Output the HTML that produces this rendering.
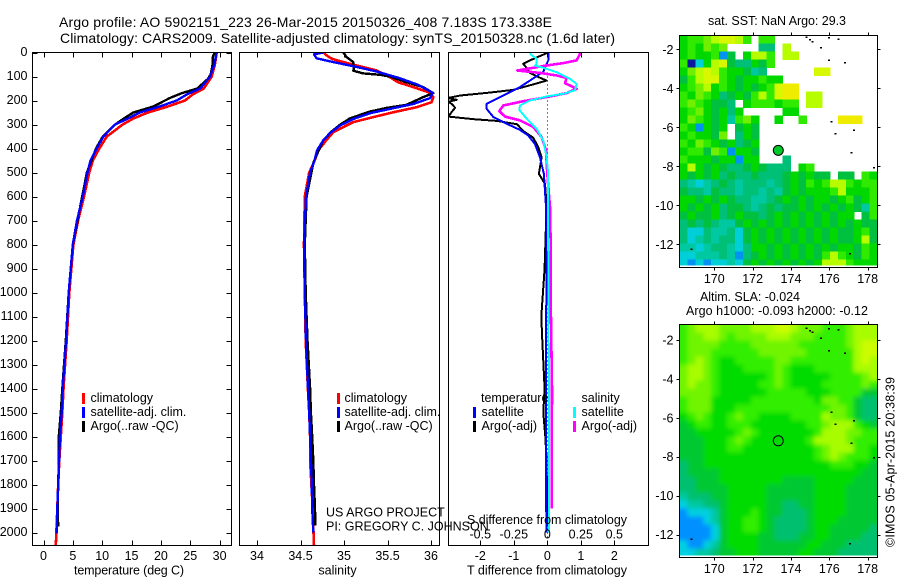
<!DOCTYPE html>
<html>
<head>
<meta charset="utf-8">
<title>Argo profile</title>
<style>
html,body{margin:0;padding:0;background:#fff;}
svg{display:block;}
text{font-family:"Liberation Sans",sans-serif;font-size:12.5px;fill:#000;}
.t{font-size:14px;}
</style>
</head>
<body>
<svg id="chart" xmlns="http://www.w3.org/2000/svg" width="900" height="580" viewBox="0 0 900 580">
<defs>
<clipPath id="clipP1"><rect x="32.5" y="52.5" width="199" height="493"/></clipPath>
<clipPath id="clipP2"><rect x="239.5" y="52.5" width="200" height="493"/></clipPath>
<clipPath id="clipP3"><rect x="448.5" y="52.5" width="200" height="493"/></clipPath>
<clipPath id="clipM1"><rect x="679.5" y="35.5" width="198" height="230"/></clipPath>
<clipPath id="clipM2"><rect x="679.5" y="324.5" width="198" height="231"/></clipPath>
<filter id="smooth" x="-5%" y="-5%" width="110%" height="110%"><feGaussianBlur stdDeviation="2.4"/></filter>
</defs>
<text class="t" x="59" y="27" textLength="493">Argo profile: AO 5902151_223 26-Mar-2015 20150326_408 7.183S 173.338E</text>
<text class="t" x="60" y="43" textLength="555">Climatology: CARS2009. Satellite-adjusted climatology: synTS_20150328.nc (1.6d later)</text>
<g id="layer"></g>
<g>
<rect x="82" y="393" width="3" height="11" fill="#ff0000"/>
<rect x="82" y="407" width="3" height="11" fill="#0000ff"/>
<rect x="82" y="421" width="3" height="11" fill="#000"/>
<text x="90.5" y="402">climatology</text>
<text x="90.5" y="416">satellite-adj. clim.</text>
<text x="90.5" y="430">Argo(..raw -QC)</text>
</g>
<g>
<rect x="337" y="393" width="3" height="11" fill="#ff0000"/>
<rect x="337" y="407" width="3" height="11" fill="#0000ff"/>
<rect x="337" y="421" width="3" height="11" fill="#000"/>
<text x="344.5" y="402">climatology</text>
<text x="344.5" y="416">satellite-adj. clim.</text>
<text x="344.5" y="430">Argo(..raw -QC)</text>
</g>
<g>
<text x="481" y="402">temperature</text>
<rect x="473" y="407" width="3" height="11" fill="#0000ff"/>
<rect x="473" y="421" width="3" height="11" fill="#000"/>
<text x="481.5" y="416">satellite</text>
<text x="481.5" y="430">Argo(-adj)</text>
<text x="581.5" y="402">salinity</text>
<rect x="573" y="407" width="3" height="11" fill="#00ffff"/>
<rect x="573" y="421" width="3" height="11" fill="#ff00ff"/>
<text x="581.5" y="416">satellite</text>
<text x="581.5" y="430">Argo(-adj)</text>
</g>
<text x="326" y="516.5">US ARGO PROJECT</text>
<text x="326" y="530.5">PI: GREGORY C. JOHNSON</text>
<text x="467" y="524" textLength="160">S difference from climatology</text>
<text x="74" y="574.5" textLength="110">temperature (deg C)</text>
<text x="337.5" y="574.5" text-anchor="middle">salinity</text>
<text x="467" y="574.5" textLength="160">T difference from climatology</text>
<text x="708" y="25" textLength="138">sat. SST: NaN Argo: 29.3</text>
<text x="700" y="301" textLength="100">Altim. SLA: -0.024</text>
<text x="686" y="315" textLength="182">Argo h1000: -0.093 h2000: -0.12</text>
<text transform="translate(894.5,547) rotate(-90)" textLength="170">©IMOS 05-Apr-2015 20:38:39</text>
</svg>
<script>
// ---------- profile data ----------
const depthTicks = [0,100,200,300,400,500,600,700,800,900,1000,1100,1200,1300,1400,1500,1600,1700,1800,1900,2000];
const tempTicks = [0,5,10,15,20,25,30];
const salTicks = [34,34.5,35,35.5,36];
const salTickLabels = ['34','34.5','35','35.5','36'];
const tDiffTicks = [-2,-1,0,1,2];
const sDiffTicks = [-0.5,-0.25,0,0.25,0.5];
const sDiffTickLabels = ['-0.5','-0.25','0','0.25','0.5'];
const lonTicks = [170,172,174,176,178];
const latTicks = [-2,-4,-6,-8,-10,-12];

const tempClimDepth = [0,50,100,150,175,200,225,250,275,300,350,400,450,500,600,700,800,1000,1200,1400,1500,1600,1700,1800,1900,2000,2054];
const tempClim = [29.5,29.2,28.65,27.3,25.4,24.1,21.2,17.8,15.3,13.5,10.8,9.5,8.4,7.8,6.9,5.9,5.1,4.4,3.95,3.4,3.2,2.95,2.7,2.5,2.35,2.2,2.1];
const tempSatDepth = [0,50,100,150,175,200,225,250,275,300,350,400,450,500,600,700,800,1000,1200,1400,1500,1600,1700,1800,1900,2005];
const tempSat = [29.5,29.1,28.4,26.7,24.4,22.7,19.8,16.4,14.4,12.2,10.2,9.06,8.0,7.5,6.7,5.7,5.0,4.3,3.85,3.27,3.1,2.8,2.65,2.5,2.35,2.25];
const tempArgoDepth = [0,20,50,90,110,150,170,190,225,250,275,300,350,400,500,600,800,1000,1200,1400,1500,1600,1700,1800,1900,1975];
const tempArgo = [29.2,28.8,28.8,28.5,28,26.2,23.5,21.5,18.7,15.3,13.7,12.2,10.1,8.95,7.4,6.6,5.0,4.3,3.8,3.2,2.95,2.6,2.6,2.5,2.4,2.5];

const salClimDepth = [0,12,26,40,75,103,124,144,165,186,207,228,249,269,290,311,332,367,408,457,500,600,800,1000,1200,1400,1500,1600,1700,1800,1900,2000,2054];
const salClim = [34.762,34.80,34.858,34.992,35.375,35.528,35.624,35.796,35.968,36.026,36.007,35.834,35.566,35.337,35.107,34.992,34.877,34.793,34.705,34.655,34.60,34.55,34.54,34.55,34.56,34.585,34.6,34.61,34.61,34.625,34.64,34.65,34.655];
const salSatDepth = [0,8,24,40,57,79,107,135,168,190,214,235,253,277,304,335,367,408,457,500,600,800,1000,1200,1400,1500,1600,1700,1800,1900,2000];
const salSat = [34.76,34.655,34.686,34.877,35.107,35.376,35.64,35.854,36.02,35.99,35.80,35.53,35.30,35.107,34.954,34.84,34.76,34.69,34.655,34.61,34.563,34.54,34.55,34.563,34.586,34.6,34.61,34.62,34.63,34.635,34.647];
const salArgoDepth = [0,19,40,68,76,87,93,100,124,144,169,186,218,231,246,274,301,329,367,457,600,800,1000,1200,1400,1500,1600,1700,1800,1900,1970];
const salArgo = [34.992,35.03,35.107,35.114,35.107,35.22,35.413,35.528,35.72,35.91,36.026,35.91,35.72,35.49,35.30,35.07,34.954,34.858,34.76,34.65,34.57,34.55,34.56,34.58,34.61,34.62,34.635,34.647,34.655,34.667,34.67];

const tSatDepth = [0,6,33,61,82,89,117,144,165,193,214,235,269,297,322,346,381,436,506,644,783,1000,1400,2000];
const tSat = [0.03,0.03,0.03,-0.07,-0.12,-0.22,-0.52,-0.82,-1.11,-1.51,-1.81,-1.81,-1.61,-1.21,-0.82,-0.57,-0.37,-0.22,-0.1,-0.04,-0.02,-0.03,-0.04,-0.03];
const tArgoDepth = [0,33,47,67,85,99,117,133,156,167,179,190,197,205,215,230,247,267,278,285,299,327,355,394,436,506,547,602,714,900,1100,1200,1400,1500,1600,1700,1975];
const tArgo = [0.03,-0.52,-0.72,-0.6,-0.52,-0.32,-0.02,-0.42,-1.02,-1.72,-2.6,-2.98,-2.7,-2.95,-2.85,-2.75,-2.85,-2.95,-2.2,-1.5,-0.9,-0.72,-0.42,-0.27,-0.17,-0.25,-0.07,-0.04,-0.04,-0.08,-0.18,-0.15,-0.08,-0.12,-0.06,-0.02,0];
const sSatDepth = [0,8,26,47,54,68,82,110,131,158,172,183,200,221,239,276,318,367,436,506,644,783,1400,2000];
const sSat = [-0.124,-0.124,-0.08,-0.08,-0.092,-0.005,0.07,0.17,0.219,0.206,0.119,-0.005,-0.129,-0.204,-0.209,-0.154,-0.08,-0.03,-0.005,0.007,0.007,0.007,0.013,0.013];
const sArgoDepth = [0,6,33,44,54,75,85,96,106,128,151,169,186,203,221,244,267,283,311,353,408,506,644,783,1000,1400,1900];
const sArgo = [0.244,0.244,0.219,0.119,-0.005,-0.224,-0.055,0.07,0.144,0.132,0.219,0.144,-0.005,-0.179,-0.328,-0.358,-0.316,-0.204,-0.104,-0.042,-0.01,0,0.02,0.025,0.025,0.035,0.033];

// ---------- map data: one character per cell, see sstColors / slaColors ----------
const sstRows = [
"ghhijkkjh.hh.............",
"ghgihi....ee.j...........",
"ghgghbf.gjjh.jj..........",
"hacgjkfeegfh.............",
"gijkjhggfde......kk......",
"fhjkkhgfgghgg............",
"ghijghgfgfghkll..........",
"hgihgefgfhjhkll.jj.......",
"hihgffe.ghhhghh.jj.......",
"ghigfgeg.....gg..........",
"gihgfgdhig..g..h....lll..",
"hgbgfg.fgf...............",
"ghggfi.egf...............",
"hgihgfgefg...............",
"ghhfihbggf...............",
"hgggfggbgg...e...........",
"gjgfgfeefgfeee.gh........",
"gfgfgefeefeeefgfgff.ff.hg",
"edcdefedeeedefgfhghjjhghh",
"feedfeedeededfgfggghjgggh",
"ggfgfgfeeddefgfgfggfghfgh",
"gfgfgeffedefeffgfgfgfgfdh",
"fgffgefgffefgfgfgfgfgg.fh",
"efefeddfgfgfgfgfgfgfgfgff",
"ecceddecfgfgfgfgfgfgffghf",
"ecdedeecfgfgfgfgfgfgffgjf",
"ddcdeedceggfgfgfgfgfggfhg",
"ccdddedbefgfgfgfgfhjhgfhg",
"cbcbccdcfgfgfgfgfgjjjhggg"
];
const slaRows = [
"hijjjiiiijjjkkjiiihhhijjj",
"hiijjihiiiijjjiiihhhhijjj",
"hiiiihhhhiiiiiihhhhhhijkk",
"hiiihhhhhhiiiiiihhhhhhjkk",
"hijihgghhhhhiihhhhhhhhjkj",
"ijjihggghhhhihggghhhhhjjj",
"ijjihgggggghihggggghhhhij",
"ijiihggggghhihgggghhhhhih",
"iiiihgggggghhhhhggghhhhff",
"hiiiggggghhhhhhhhgiihhfee",
"hiiiggghhhhhhhhhhhhiihfee",
"ghihgghihhgggghhhhjiihfee",
"fghhgghhhggggggghhijjjhgf",
"ffggggghihggggggghjjjiihh",
"fffggghihggggggghjjjjihhh",
"fffggghhggggggggghijjjhhg",
"fffgggggggggggggghijihhhg",
"effgggggggggggggggghhhggf",
"effffggggggggggggggggggff",
"eefffggggggggffffgggggfff",
"eeffffgggggffffffggggffff",
"deeeffgggggffffffggggffff",
"cddeefgggggffeeffggggffff",
"bcccdfggghgffeeefggggffff",
"bbbcdfgghhgfeeeefgggfffff",
"bbbbcfgghhgfeeeefggfffffe",
"bbbbcfggggffeeeffggffffee",
"cbbcdfggggffffffggfffeeee",
"ccddeffgggfffffggfffeeeee"
];
const sstColors = {a:'#0a1a9c',b:'#0094f0',c:'#00cfd8',d:'#00c8a0',e:'#00c078',f:'#00c040',g:'#00d800',h:'#30ea00',i:'#70f000',j:'#b8fc00',k:'#d8f800',l:'#f0ec00',m:'#ffd800'};
const slaColors = {b:'#0090ff',c:'#00d0e0',d:'#00c8a0',e:'#00c070',f:'#00c830',g:'#00dc00',h:'#30ee00',i:'#70f400',j:'#a8fc00',k:'#ccfc00'};
const coastLon = [174.82,175.0,175.13,175.57,175.98,176.47,175.98,176.82,176.12,176.33,177.3,177.17,178.33,177.08,168.82];
const coastLat = [-1.38,-1.5,-1.6,-1.91,-1.4,-1.47,-2.55,-2.67,-5.71,-6.31,-6.14,-7.3,-8.05,-12.46,-12.24];
const floatLon = 173.338;
const floatLat = -7.183;

// ---------- axis functions ----------
const NS = 'http://www.w3.org/2000/svg';
const layer = document.getElementById('layer');
const yDepth = d => 52.5 + 0.24 * d;
const xTemp = v => 43.5 + 5.87 * v;
const xSal = v => 257 + 87 * (v - 34);
const xTDiff = v => 547.3 + 33.5 * v;
const xSDiff = v => 547.3 + 134 * v;
const xLon = v => 714.3 + 19.17 * (v - 170);
const yLat1 = v => 49.3 + 19.5 * (-2 - v);
const yLat2 = v => 340 + 19.45 * (-2 - v);

function make(tag, attrs, parent) {
  const el = document.createElementNS(NS, tag);
  for (const k in attrs) el.setAttribute(k, attrs[k]);
  (parent || layer).appendChild(el);
  return el;
}
function tickLine(x1, y1, x2, y2, parent) {
  const el = make('line', {x1, y1, x2, y2, stroke: '#000', 'stroke-width': 1, 'shape-rendering': 'crispEdges'}, parent);
  
  
}
function tickText(x, y, anchor, str, parent) {
  const el = make('text', {x, y, 'text-anchor': anchor}, parent);
  el.textContent = str;
  
  
}
function frame(x, y, w, h) {
  const el = make('rect', {x, y, width: w, height: h, fill: 'none', stroke: '#000', 'stroke-width': 1, 'shape-rendering': 'crispEdges'});
  
  
}
function series(depths, values, xf, color, width, clip) {
  const pts = values.map((v, i) => xf(v).toFixed(1) + ',' + yDepth(depths[i]).toFixed(1)).join(' ');
  const el = make('polyline', {points: pts, fill: 'none', stroke: color, 'stroke-width': width, 'clip-path': 'url(#' + clip + ')', 'shape-rendering': 'crispEdges', 'stroke-linejoin': 'round'});
  
  
}

// ---------- panel 1: temperature ----------
series(tempClimDepth, tempClim, xTemp, '#ff0000', 2.6, 'clipP1');
series(tempArgoDepth, tempArgo, xTemp, '#000000', 2.4, 'clipP1');
series(tempSatDepth, tempSat, xTemp, '#0000ff', 2.4, 'clipP1');
frame(32.5, 52.5, 199, 493);
depthTicks.forEach(d => {
  const y = Math.round(yDepth(d)) + 0.5;
  tickLine(32.5, y, 37.5, y);
  tickLine(226.5, y, 231.5, y);
  tickText(27.5, yDepth(d) + 3.5, 'end', String(d));
});
tempTicks.forEach(v => {
  const x = Math.round(xTemp(v)) + 0.5;
  tickLine(x, 52.5, x, 57.5);
  tickLine(x, 540.5, x, 545.5);
  tickText(xTemp(v), 560, 'middle', String(v));
});

// ---------- panel 2: salinity ----------
series(salClimDepth, salClim, xSal, '#ff0000', 2.6, 'clipP2');
series(salArgoDepth, salArgo, xSal, '#000000', 2.4, 'clipP2');
series(salSatDepth, salSat, xSal, '#0000ff', 2.4, 'clipP2');
frame(239.5, 52.5, 200, 493);
salTicks.forEach((v, i) => {
  const x = Math.round(xSal(v)) + 0.5;
  tickLine(x, 52.5, x, 57.5);
  tickLine(x, 540.5, x, 545.5);
  tickText(xSal(v), 560, 'middle', salTickLabels[i]);
});

// ---------- panel 3: differences ----------
const zero = make('line', {x1: 547.5, y1: 52.5, x2: 547.5, y2: 545, stroke: '#000', 'stroke-width': 1, 'stroke-dasharray': '1 3', 'shape-rendering': 'crispEdges'});


series(tArgoDepth, tArgo, xTDiff, '#000000', 2, 'clipP3');
series(tSatDepth, tSat, xTDiff, '#0000ff', 2, 'clipP3');
series(sArgoDepth, sArgo, xSDiff, '#ff00ff', 2.6, 'clipP3');
series(sSatDepth, sSat, xSDiff, '#00ffff', 2, 'clipP3');
frame(448.5, 52.5, 200, 493);
tDiffTicks.forEach(v => {
  const x = Math.round(xTDiff(v)) + 0.5;
  tickLine(x, 52.5, x, 57.5);
  tickLine(x, 540.5, x, 545.5);
  tickText(xTDiff(v), 560, 'middle', String(v));
});
sDiffTicks.forEach((v, i) => {
  tickText(xSDiff(v), 538.5, 'middle', sDiffTickLabels[i]);
});

// ---------- maps ----------
function drawGrid(rows, colors, left, top, cw, ch, clip, blur) {
  const outer = make('g', {'clip-path': 'url(#' + clip + ')'});
  
  
  const g = make('g', blur ? {filter: 'url(#smooth)'} : {}, outer);
  rows.forEach((row, r) => {
    for (let c = 0; c < row.length; c++) {
      const col = colors[row[c]];
      if (!col) continue;
      let x = left + c * cw, y = top + r * ch, w = cw + 0.6, h = ch + 0.6;
      if (blur) {
        if (c === 0) { x -= 10; w += 10; }
        if (c === row.length - 1) w += 10;
        if (r === 0) { y -= 10; h += 10; }
        if (r === rows.length - 1) h += 10;
      }
      const cell = make('rect', {x: x.toFixed(2), y: y.toFixed(2), width: w.toFixed(2), height: h.toFixed(2), fill: col, 'shape-rendering': 'crispEdges'}, g);
      
      
    }
  });
  return outer;
}
function drawCoast(yLat, clip) {
  coastLon.forEach((lon, i) => {
    const s = make('rect', {x: (xLon(lon) - 1).toFixed(1), y: (yLat(coastLat[i]) - 0.5).toFixed(1), width: 2, height: 1.5, fill: '#000', 'clip-path': 'url(#' + clip + ')', 'shape-rendering': 'crispEdges'});
    
    
  });
}
function mapAxes(top, bottom, yLat, labelBase) {
  frame(679.5, top, 198, bottom - top);
  lonTicks.forEach(v => {
    const x = Math.round(xLon(v)) + 0.5;
    tickLine(x, top - 3, x, top);
    tickLine(x, bottom, x, bottom + 3);
    tickText(xLon(v), labelBase, 'middle', String(v));
  });
  latTicks.forEach(v => {
    const y = Math.round(yLat(v)) + 0.5;
    tickLine(676.5, y, 679.5, y);
    tickLine(877.5, y, 880.5, y);
    tickText(673.5, yLat(v) + 4.5, 'end', String(v));
  });
}

drawGrid(sstRows, sstColors, 679.5, 35.5, 7.92, 8, 'clipM1', false);
drawCoast(yLat1, 'clipM1');
mapAxes(35.5, 267.5, yLat1, 283);
const dot = make('circle', {cx: xLon(floatLon), cy: yLat1(floatLat), r: 5, fill: '#00c828', stroke: '#000', 'stroke-width': 1});



drawGrid(slaRows, slaColors, 679.5, 324.5, 7.92, 8, 'clipM2', true);
drawCoast(yLat2, 'clipM2');
mapAxes(324.5, 557.5, yLat2, 573);
const ring = make('circle', {cx: xLon(floatLon), cy: yLat2(floatLat), r: 5, fill: 'none', stroke: '#000', 'stroke-width': 1});


</script>
</body>
</html>
